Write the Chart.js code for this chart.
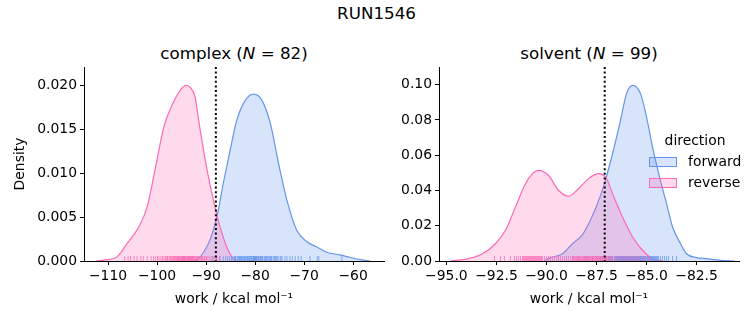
<!DOCTYPE html>
<html>
<head>
<meta charset="utf-8">
<script src="https://cdn.jsdelivr.net/npm/chart.js@4.4.0/dist/chart.umd.min.js"></script>
<style>
  body { margin: 0; background: #fff; width: 753px; height: 325px; position: relative; overflow: hidden; font-family: "DejaVu Sans", sans-serif; color: #000; }
  #sup { position: absolute; left: 0; top: 3px; width: 753px; text-align: center; font-size: 16.7px; }
  .ttl { position: absolute; top: 43px; width: 300px; text-align: center; font-size: 16.7px; white-space: nowrap; }
  canvas { position: absolute; top: 0; }
</style>
</head>
<body>
<div id="sup">RUN1546</div>
<div class="ttl" style="left:84px">complex (<i>N</i> = 82)</div>
<div class="ttl" style="left:439px">solvent (<i>N</i> = 99)</div>
<canvas id="chartComplex" width="395" height="325" style="left:0"></canvas>
<canvas id="chartSolvent" width="358" height="325" style="left:395px"></canvas>
<script>
// complex: curvas KDE
const complexFwdX = [-92.5, -91.5, -90.5, -89.2, -87.8, -86.5, -85.1, -83.7, -82.0, -80.3, -78.6, -76.9, -75.2, -73.5, -71.5, -69.4, -67.4, -65.4, -62.7, -60.6, -57.9, -56.5];
const complexFwdY = [0, 0.0003, 0.0010, 0.0024, 0.0050, 0.0088, 0.0126, 0.0161, 0.0183, 0.0190, 0.0183, 0.0157, 0.0111, 0.0069, 0.0035, 0.0022, 0.0016, 0.0010, 0.0007, 0.0004, 0.0001, 0];
const complexRevX = [-112.5, -110.8, -108.1, -106.1, -103.7, -102.0, -100.3, -98.6, -96.9, -95.2, -94.1, -93.1, -92.3, -91.2, -89.9, -88.2, -86.5, -84.8, -83.8];
const complexRevY = [0, 0.0001, 0.0005, 0.0020, 0.0039, 0.0062, 0.0107, 0.0153, 0.0178, 0.0195, 0.0200, 0.0197, 0.0188, 0.0149, 0.0107, 0.0062, 0.0027, 0.0005, 0];

// solvent
const solventFwdX = [-90.1, -89.9, -89.2, -88.7, -88.2, -87.9, -87.5, -87.1, -86.7, -86.3, -86.0, -85.7, -85.3, -85.0, -84.7, -84.35, -84.0, -83.7, -83.3, -83.0, -82.5, -82.0, -81.3, -80.6];
const solventFwdY = [0, 0.0015, 0.0041, 0.0098, 0.0150, 0.0210, 0.0310, 0.0440, 0.0608, 0.0798, 0.0949, 0.0996, 0.0949, 0.0816, 0.0646, 0.0476, 0.0325, 0.0193, 0.0098, 0.0041, 0.0019, 0.0013, 0.0004, 0];
const solventRevX = [-94.8, -93.9, -93.2, -92.55, -92.05, -91.55, -91.05, -90.7, -90.4, -89.9, -89.4, -88.9, -88.4, -87.9, -87.4, -87.0, -86.7, -86.2, -85.7, -85.2, -84.7, -84.2];
const solventRevY = [0, 0.0013, 0.0041, 0.0098, 0.0174, 0.0306, 0.0438, 0.0495, 0.0514, 0.0486, 0.0401, 0.0367, 0.0410, 0.0467, 0.0495, 0.0467, 0.0382, 0.0249, 0.0136, 0.0061, 0.0013, 0];

// rug (valores individuales de trabajo)
const complexFwdRug = [-88.6, -87.9, -87.2, -86.5, -86.0, -85.6, -85.2, -84.8, -84.5, -84.2, -84.0, -83.9, -83.6, -83.4, -83.2, -83.1, -83.0, -82.8, -82.7, -82.6, -82.4, -82.2, -82.1, -82.0, -81.8, -81.6, -81.5, -81.4, -81.2, -81.1, -81.0, -80.8, -80.7, -80.6, -80.4, -80.3, -80.2, -80.1, -80.0, -79.9, -79.8, -79.7, -79.6, -79.4, -79.3, -79.2, -79.0, -78.9, -78.8, -78.6, -78.5, -78.4, -78.1, -77.9, -77.8, -77.6, -77.5, -77.2, -77.0, -76.9, -76.7, -76.6, -76.3, -76.0, -75.9, -75.7, -75.5, -75.3, -74.9, -74.7, -74.5, -73.9, -73.5, -72.9, -72.4, -71.8, -71.2, -70.6, -68.8, -67.3, -67.0, -62.3];
const complexRevRug = [-106.6, -105.9, -105.4, -104.7, -104.1, -103.3, -102.8, -102.0, -101.2, -100.7, -100.3, -99.9, -99.6, -99.2, -98.9, -98.6, -98.3, -98.0, -97.9, -97.8, -97.5, -97.3, -97.1, -97.0, -96.8, -96.6, -96.5, -96.4, -96.2, -96.0, -95.9, -95.8, -95.6, -95.5, -95.4, -95.3, -95.1, -95.0, -94.9, -94.8, -94.7, -94.6, -94.5, -94.4, -94.3, -94.2, -94.1, -93.9, -93.8, -93.7, -93.6, -93.5, -93.4, -93.3, -93.2, -93.1, -93.0, -92.9, -92.8, -92.7, -92.6, -92.5, -92.4, -92.2, -92.0, -91.9, -91.8, -91.6, -91.5, -91.2, -90.9, -90.8, -90.6, -90.3, -90.0, -89.9, -89.6, -89.2, -88.8, -88.3, -87.8, -87.2];
const solventFwdRug = [-89.8, -89.4, -89.0, -88.7, -88.4, -88.1, -88.0, -87.9, -87.7, -87.5, -87.4, -87.3, -87.2, -87.1, -87.05, -87.0, -86.9, -86.85, -86.8, -86.75, -86.7, -86.62, -86.6, -86.55, -86.5, -86.48, -86.45, -86.4, -86.38, -86.35, -86.33, -86.3, -86.28, -86.25, -86.22, -86.2, -86.18, -86.15, -86.12, -86.1, -86.08, -86.05, -86.02, -86.0, -85.98, -85.95, -85.92, -85.9, -85.88, -85.85, -85.82, -85.8, -85.78, -85.75, -85.72, -85.7, -85.68, -85.65, -85.62, -85.6, -85.58, -85.55, -85.52, -85.5, -85.48, -85.45, -85.42, -85.4, -85.38, -85.35, -85.32, -85.3, -85.25, -85.22, -85.2, -85.15, -85.12, -85.1, -85.05, -85.0, -84.95, -84.9, -84.85, -84.8, -84.75, -84.7, -84.65, -84.6, -84.55, -84.5, -84.45, -84.4, -84.3, -84.2, -84.1, -84.0, -83.9, -83.7, -83.5];
const solventRevRug = [-92.6, -92.3, -92.1, -91.8, -91.6, -91.5, -91.4, -91.3, -91.2, -91.15, -91.1, -91.05, -91.0, -90.95, -90.9, -90.85, -90.8, -90.75, -90.7, -90.65, -90.6, -90.55, -90.5, -90.45, -90.4, -90.35, -90.3, -90.25, -90.2, -90.1, -90.0, -89.9, -89.8, -89.7, -89.6, -89.5, -89.4, -89.3, -89.2, -89.1, -89.0, -88.9, -88.8, -88.7, -88.65, -88.6, -88.55, -88.5, -88.45, -88.4, -88.35, -88.3, -88.25, -88.2, -88.15, -88.1, -88.05, -88.0, -87.95, -87.9, -87.85, -87.8, -87.75, -87.7, -87.65, -87.6, -87.55, -87.5, -87.45, -87.4, -87.35, -87.3, -87.25, -87.2, -87.15, -87.1, -87.05, -87.0, -86.95, -86.9, -86.85, -86.8, -86.7, -86.6, -86.5, -86.4, -86.3, -86.2, -86.1, -86.0, -85.9, -85.8, -85.7, -85.6, -85.5, -85.4, -85.2, -85.1, -84.9];

// líneas de referencia y ejes
const complexRefLine = -88.0;
const solventRefLine = -87.09;
const complexXTicks = [-110, -100, -90, -80, -70, -60];
const complexYTicks = [0, 0.005, 0.010, 0.015, 0.020];
const solventXTicks = [-95.0, -92.5, -90.0, -87.5, -85.0, -82.5];
const solventYTicks = [0, 0.02, 0.04, 0.06, 0.08, 0.10];
const directions = ['forward', 'reverse'];

const colorFwd = '#6495ED';
const colorRev = '#FF69B4';
const fillFwd = 'rgba(100, 149, 237, 0.25)';
const fillRev = 'rgba(255, 105, 180, 0.25)';
const FONT = '"DejaVu Sans", sans-serif';

Chart.defaults.font.family = FONT;
Chart.defaults.font.size = 13.9;
Chart.defaults.color = '#000';

const rugPlugin = {
    id: 'rug',
    afterDatasetsDraw(chart, args, opts) {
        const { ctx, chartArea, scales: { x } } = chart;
        ctx.save();
        ctx.beginPath();
        ctx.rect(chartArea.left, chartArea.top, chartArea.width, chartArea.height);
        ctx.clip();
        ctx.lineWidth = 1;
        (opts.sets || []).forEach(s => {
            ctx.strokeStyle = s.color;
            s.values.forEach(v => {
                const px = x.getPixelForValue(v);
                ctx.beginPath();
                ctx.moveTo(px, chartArea.bottom);
                ctx.lineTo(px, chartArea.bottom - 5);
                ctx.stroke();
            });
        });
        ctx.restore();
    }
};

const refLinePlugin = {
    id: 'refLine',
    afterDatasetsDraw(chart, args, opts) {
        if (opts.value === undefined) return;
        const { ctx, chartArea, scales: { x } } = chart;
        const px = x.getPixelForValue(opts.value);
        ctx.save();
        ctx.strokeStyle = '#000';
        ctx.lineWidth = 2;
        ctx.setLineDash([2, 2.6]);
        ctx.beginPath();
        ctx.moveTo(px, chartArea.top);
        ctx.lineTo(px, chartArea.bottom);
        ctx.stroke();
        ctx.restore();
    }
};

const legendPlugin = {
    id: 'dirLegend',
    afterDraw(chart, args, opts) {
        if (!opts.items) return;
        const { ctx, chartArea } = chart;
        const x0 = chartArea.right - 90;
        const y0 = chartArea.top + 74;
        ctx.save();
        ctx.font = '13.9px ' + FONT;
        ctx.fillStyle = '#000';
        ctx.textBaseline = 'middle';
        ctx.textAlign = 'center';
        ctx.fillText(opts.title, chartArea.right - 44, y0);
        ctx.textAlign = 'left';
        opts.items.forEach((it, i) => {
            const y = y0 + 21 * (i + 1);
            ctx.fillStyle = it.fill;
            ctx.fillRect(x0, y - 5, 28, 10);
            ctx.strokeStyle = it.color;
            ctx.lineWidth = 1;
            ctx.strokeRect(x0 + 0.5, y - 4.5, 27, 9);
            ctx.fillStyle = '#000';
            ctx.fillText(it.label, x0 + 39, y);
        });
        ctx.restore();
    }
};

function puntos(xs, ys) {
    return xs.map((x, i) => ({ x: x, y: ys[i] }));
}

function minus(s) {
    return String(s).replace('-', '\u2212');
}

function crearPanel(id, p) {
    const ctx = document.getElementById(id).getContext('2d');
    return new Chart(ctx, {
        type: 'scatter',
        data: {
            datasets: [
                {
                    label: directions[1],
                    data: puntos(p.revX, p.revY),
                    showLine: true,
                    fill: 'origin',
                    borderColor: colorRev,
                    backgroundColor: fillRev,
                    borderWidth: 1.2,
                    pointRadius: 0,
                    cubicInterpolationMode: 'monotone',
                    order: 0
                },
                {
                    label: directions[0],
                    data: puntos(p.fwdX, p.fwdY),
                    showLine: true,
                    fill: 'origin',
                    borderColor: colorFwd,
                    backgroundColor: fillFwd,
                    borderWidth: 1.2,
                    pointRadius: 0,
                    cubicInterpolationMode: 'monotone',
                    order: 1
                }
            ]
        },
        options: {
            responsive: false,
            animation: false,
            events: [],
            layout: { padding: { left: 0, right: p.padRight, top: 67, bottom: 0 } },
            plugins: {
                legend: { display: false },
                tooltip: { enabled: false },
                rug: { sets: [{ values: p.fwdRug, color: 'rgba(100, 149, 237, 0.75)' }, { values: p.revRug, color: 'rgba(255, 105, 180, 0.75)' }] },
                refLine: { value: p.ref },
                dirLegend: p.legend || {}
            },
            scales: {
                x: {
                    type: 'linear',
                    min: p.xMin,
                    max: p.xMax,
                    afterBuildTicks: s => { s.ticks = p.xTicks.map(v => ({ value: v })); },
                    afterFit: s => { s.height = 64; },
                    ticks: {
                        maxRotation: 0,
                        autoSkip: false,
                        padding: 3,
                        color: '#000',
                        callback: v => minus(v.toFixed(p.xDec))
                    },
                    grid: { drawOnChartArea: false, drawTicks: true, tickLength: 4, color: '#000', lineWidth: 1 },
                    border: { display: true, color: '#000', width: 1 },
                    title: {
                        display: true,
                        text: 'work / kcal mol\u207B\u00B9',
                        color: '#000',
                        font: { size: 13.9 },
                        padding: { top: 0, bottom: 17 }
                    }
                },
                y: {
                    type: 'linear',
                    min: 0,
                    max: p.yMax,
                    afterBuildTicks: s => { s.ticks = p.yTicks.map(v => ({ value: v })); },
                    afterFit: s => { s.width = p.yWidth; },
                    ticks: {
                        padding: 3,
                        color: '#000',
                        callback: v => v.toFixed(p.yDec)
                    },
                    grid: { drawOnChartArea: false, drawTicks: true, tickLength: 4, color: '#000', lineWidth: 1 },
                    border: { display: true, color: '#000', width: 1 },
                    title: {
                        display: !!p.yTitle,
                        text: p.yTitle || '',
                        color: '#000',
                        font: { size: 13.9 },
                        padding: { top: 12, bottom: 0 }
                    }
                }
            }
        },
        plugins: [rugPlugin, refLinePlugin, legendPlugin]
    });
}

crearPanel('chartComplex', {
    fwdX: complexFwdX, fwdY: complexFwdY, revX: complexRevX, revY: complexRevY,
    fwdRug: complexFwdRug, revRug: complexRevRug, ref: complexRefLine,
    xMin: -114.9, xMax: -53.7, xTicks: complexXTicks, xDec: 0,
    yMax: 0.0221, yTicks: complexYTicks, yDec: 3,
    yWidth: 84, padRight: 11, yTitle: 'Density'
});

crearPanel('chartSolvent', {
    fwdX: solventFwdX, fwdY: solventFwdY, revX: solventRevX, revY: solventRevY,
    fwdRug: solventFwdRug, revRug: solventRevRug, ref: solventRefLine,
    xMin: -95.37, xMax: -80.38, xTicks: solventXTicks, xDec: 1,
    yMax: 0.110, yTicks: solventYTicks, yDec: 2,
    yWidth: 44, padRight: 14,
    legend: {
        title: 'direction',
        items: [
            { label: directions[0], color: colorFwd, fill: fillFwd },
            { label: directions[1], color: colorRev, fill: fillRev }
        ]
    }
});
</script>
</body>
</html>
